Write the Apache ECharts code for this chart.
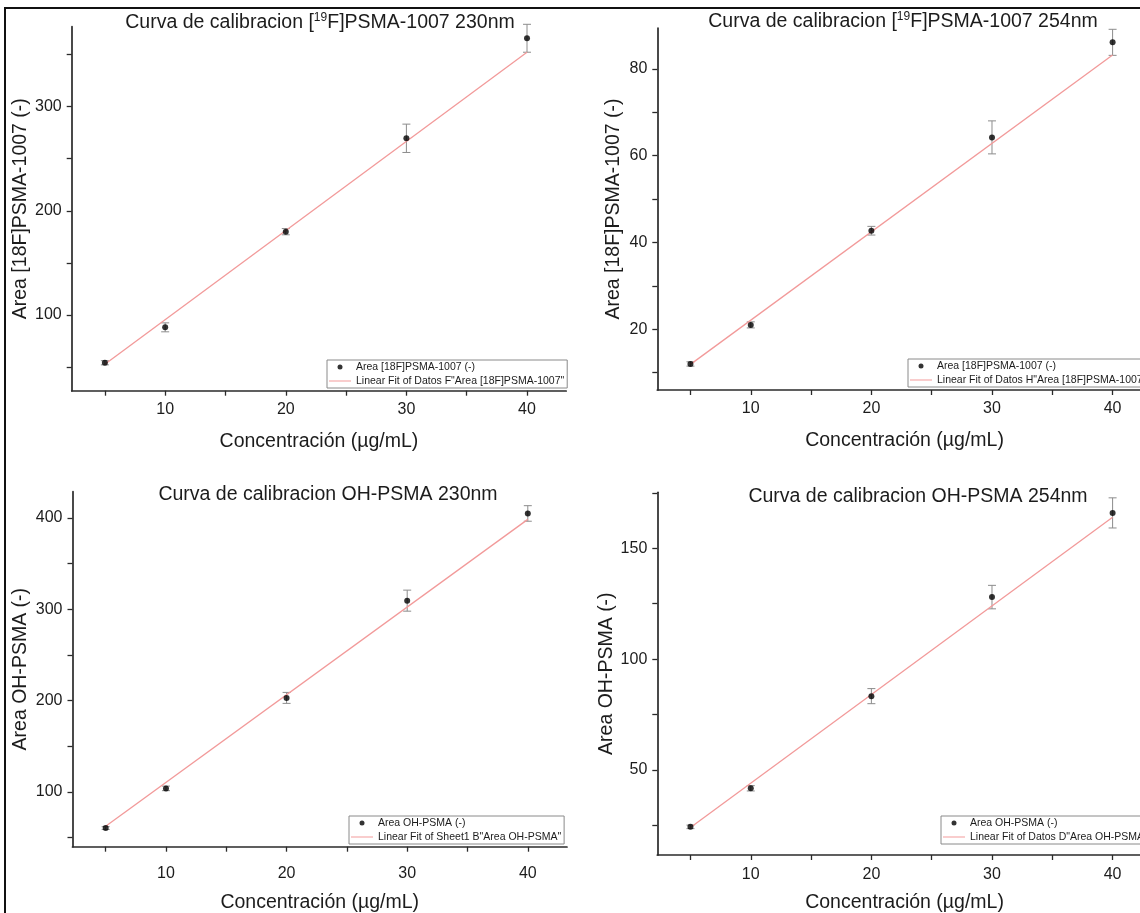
<!DOCTYPE html>
<html>
<head>
<meta charset="utf-8">
<script src="https://cdn.jsdelivr.net/npm/echarts@6/dist/echarts.min.js"></script>
<style>
  html, body { margin: 0; padding: 0; background: #ffffff; }
  #chart { width: 1140px; height: 913px; }
</style>
</head>
<body>
<div id="chart"></div>
<script>
// Standard concentrations (µg/mL)
const concentration = [5, 10, 20, 30, 40];
// x positions where each linear fit is evaluated
const fitX = [5, 40];

// [19F]PSMA-1007, 230 nm
const areaF230 = [54.2, 88.2, 180, 269.6, 365.6];
const errF230 = [2.0, 4.3, 3.0, 13.6, 13.4];
const fitF230 = [52.7, 352.2];

// [19F]PSMA-1007, 254 nm
const areaF254 = [12.0, 21.0, 42.7, 64.2, 86.1];
const errF254 = [0.5, 0.7, 1.0, 3.8, 3.0];
const fitF254 = [11.9, 83.2];

// OH-PSMA, 230 nm
const areaOH230 = [60.6, 104, 203, 309.4, 404.8];
const errOH230 = [1.5, 2.5, 6.0, 11.5, 8.5];
const fitOH230 = [62.5, 398.3];

// OH-PSMA, 254 nm
const areaOH254 = [24.3, 41.7, 83.3, 128, 166];
const errOH254 = [0.8, 1.2, 3.4, 5.3, 6.8];
const fitOH254 = [24.0, 164];

// Tick marks and tick labels
const xTicks = [5, 10, 15, 20, 25, 30, 35, 40];
const xLabels = [10, 20, 30, 40];
const yTicksF230 = [50, 100, 150, 200, 250, 300, 350];
const yLabelsF230 = [100, 200, 300];
const yTicksF254 = [10, 20, 30, 40, 50, 60, 70, 80];
const yLabelsF254 = [20, 40, 60, 80];
const yTicksOH230 = [50, 100, 150, 200, 250, 300, 350, 400];
const yLabelsOH230 = [100, 200, 300, 400];
const yTicksOH254 = [25, 50, 75, 100, 125, 150, 175];
const yLabelsOH254 = [50, 100, 150];

// Texts
const xTitle = 'Concentración (µg/mL)';
const yTitleF = 'Area [18F]PSMA-1007 (-)';
const yTitleOH = 'Area OH-PSMA (-)';
const pointNameF = 'Area [18F]PSMA-1007 (-)';
const pointNameOH = 'Area OH-PSMA (-)';
const fitNameF230 = 'Linear Fit of Datos F"Area [18F]PSMA-1007"';
const fitNameF254 = 'Linear Fit of Datos H"Area [18F]PSMA-1007"';
const fitNameOH230 = 'Linear Fit of Sheet1 B"Area OH-PSMA"';
const fitNameOH254 = 'Linear Fit of Datos D"Area OH-PSMA"';
const titleF230 = '{a|Curva de calibracion [}{s|19}{a|F]PSMA-1007 230nm}';
const titleF254 = '{a|Curva de calibracion [}{s|19}{a|F]PSMA-1007 254nm}';
const titleOH230 = '{a|Curva de calibracion OH-PSMA 230nm}';
const titleOH254 = '{a|Curva de calibracion OH-PSMA 254nm}';

const FONT = '"Liberation Sans", Arial, Helvetica, sans-serif';
const INK = '#1c1c1c';
const AXIS = '#2a2a2a';
const FIT = '#f29a9a';
const ERR = '#8c8c8c';
// thin horizontal bar used as the fit line's legend key
const LINE_KEY = 'path://M0,0 L22,0 L22,1 L0,1 Z';

// Layout of the four plotting panels
const panels = [
  { area: areaF230, err: errF230, fit: fitF230, yTicks: yTicksF230, yLabels: yLabelsF230,
    yMin: 27.4, yMax: 376.7, yTitle: yTitleF, yNameGap: 41, point: pointNameF, fitName: fitNameF230,
    grid: { left: 71.7, top: 26.7, width: 494.5, height: 364 }, xMargin: 11, xNameGap: 41,
    legend: { left: 327, top: 360 }, title: titleF230, titlePos: [320, 23] },
  { area: areaF254, err: errF254, fit: fitF254, yTicks: yTicksF254, yLabels: yLabelsF254,
    yMin: 6.0, yMax: 89.4, yTitle: yTitleF, yNameGap: 34, point: pointNameF, fitName: fitNameF254,
    grid: { left: 657.3, top: 28, width: 494.5, height: 362 }, xMargin: 11, xNameGap: 41,
    legend: { left: 908, top: 359 }, title: titleF254, titlePos: [903, 22] },
  { area: areaOH230, err: errOH230, fit: fitOH230, yTicks: yTicksOH230, yLabels: yLabelsOH230,
    yMin: 40.2, yMax: 428.6, yTitle: yTitleOH, yNameGap: 42, point: pointNameOH, fitName: fitNameOH230,
    grid: { left: 72.5, top: 491.7, width: 494.5, height: 355 }, xMargin: 19, xNameGap: 46,
    legend: { left: 349, top: 816 }, title: titleOH230, titlePos: [328, 495] },
  { area: areaOH254, err: errOH254, fit: fitOH254, yTicks: yTicksOH254, yLabels: yLabelsOH254,
    yMin: 11.6, yMax: 175.3, yTitle: yTitleOH, yNameGap: 41, point: pointNameOH, fitName: fitNameOH254,
    grid: { left: 657.3, top: 492.3, width: 494.5, height: 362.7 }, xMargin: 11.5, xNameGap: 38,
    legend: { left: 941, top: 816 }, title: titleOH254, titlePos: [918, 497] }
];

// Vertical error bar with short caps
function errorBarItem(params, api) {
  const x = api.value(0);
  const top = api.coord([x, api.value(2)]);
  const bot = api.coord([x, api.value(1)]);
  const cap = 4;
  const style = { stroke: ERR, lineWidth: 1 };
  return {
    type: 'group',
    children: [
      { type: 'line', shape: { x1: top[0], y1: top[1], x2: bot[0], y2: bot[1] }, style },
      { type: 'line', shape: { x1: top[0] - cap, y1: top[1], x2: top[0] + cap, y2: top[1] }, style },
      { type: 'line', shape: { x1: bot[0] - cap, y1: bot[1], x2: bot[0] + cap, y2: bot[1] }, style }
    ]
  };
}

const axisLineStyle = { color: AXIS, width: 1.7 };

const grid = [], xAxis = [], yAxis = [], series = [], legend = [], graphic = [];

panels.forEach((p, i) => {
  grid.push(Object.assign({ containLabel: false, outerBoundsMode: 'none' }, p.grid));

  xAxis.push({
    type: 'value', gridIndex: i, min: 2.25, max: 43.25,
    axisLine: { show: true, onZero: false, lineStyle: axisLineStyle },
    axisTick: { show: true, inside: false, length: 5, customValues: xTicks, lineStyle: { color: AXIS, width: 1.3 } },
    axisLabel: { customValues: xLabels, margin: p.xMargin, fontSize: 16, fontFamily: FONT, color: INK },
    splitLine: { show: false },
    name: xTitle, nameLocation: 'middle', nameGap: p.xNameGap,
    nameTextStyle: { fontSize: 19.5, fontFamily: FONT, color: INK }
  });

  yAxis.push({
    type: 'value', gridIndex: i, min: p.yMin, max: p.yMax,
    axisLine: { show: true, onZero: false, lineStyle: axisLineStyle },
    axisTick: { show: true, inside: false, length: 5, customValues: p.yTicks, lineStyle: { color: AXIS, width: 1.3 } },
    axisLabel: { customValues: p.yLabels, margin: 10, fontSize: 16, fontFamily: FONT, color: INK },
    splitLine: { show: false },
    name: p.yTitle, nameLocation: 'middle', nameGap: p.yNameGap, nameRotate: 90,
    nameTextStyle: { fontSize: 19.5, fontFamily: FONT, color: INK }
  });

  series.push({
    type: 'custom', xAxisIndex: i, yAxisIndex: i, z: 2,
    renderItem: errorBarItem,
    encode: { x: 0, y: [1, 2] },
    data: concentration.map((c, j) => [c, p.area[j] - p.err[j], p.area[j] + p.err[j]]),
    silent: true
  });

  series.push({
    type: 'line', name: p.fitName, xAxisIndex: i, yAxisIndex: i, z: 3,
    data: fitX.map((x, j) => [x, p.fit[j]]),
    symbol: 'none', showSymbol: false,
    lineStyle: { color: FIT, width: 1.3 }, itemStyle: { color: FIT },
    silent: true
  });

  series.push({
    type: 'scatter', name: p.point, xAxisIndex: i, yAxisIndex: i, z: 4,
    data: concentration.map((c, j) => [c, p.area[j]]),
    symbol: 'circle', symbolSize: 6,
    itemStyle: { color: '#000000' },
    silent: true
  });

  legend.push({
    orient: 'vertical', left: p.legend.left, top: p.legend.top,
    data: [{ name: p.point, icon: 'circle' }, { name: p.fitName, icon: LINE_KEY }],
    itemWidth: 22, itemHeight: 5, itemGap: 2, itemTextGap: 4, padding: [1, 3, 1, 2],
    borderColor: '#8a8a8a', borderWidth: 1, backgroundColor: '#ffffff',
    selectedMode: false,
    textStyle: { fontSize: 10.5, lineHeight: 12, fontFamily: FONT, color: INK }
  });

  graphic.push({
    type: 'text', x: p.titlePos[0], y: p.titlePos[1], silent: true,
    style: {
      text: p.title, align: 'center', verticalAlign: 'middle',
      rich: {
        a: { fontSize: 19.5, fontFamily: FONT, fill: INK, lineHeight: 23 },
        s: { fontSize: 12, fontFamily: FONT, fill: INK, lineHeight: 13, verticalAlign: 'top' }
      }
    }
  });
});

// Outer frame around the figure
graphic.push({
  type: 'rect', silent: true, z: 10,
  shape: { x: 5, y: 8, width: 1300, height: 1000 },
  style: { fill: 'none', stroke: '#111111', lineWidth: 2 }
});

const chart = echarts.init(document.getElementById('chart'), null, { renderer: 'canvas' });
chart.setOption({
  animation: false,
  backgroundColor: '#ffffff',
  grid, xAxis, yAxis, series, legend, graphic
});
</script>
</body>
</html>
